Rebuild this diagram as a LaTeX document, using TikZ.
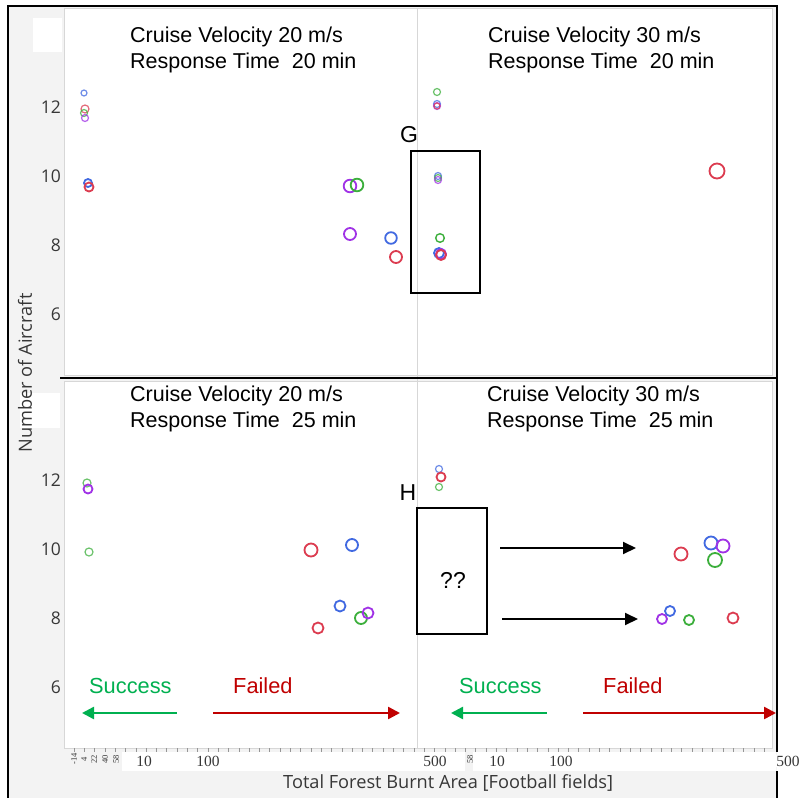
\documentclass[tikz,border=0pt]{standalone}
\usepackage{fontspec}
\setmainfont{Liberation Sans}
\newfontfamily\axisfont{Open Sans}
\newfontfamily\tickfont{Liberation Serif}
\usetikzlibrary{arrows.meta}
\definecolor{cblue}{RGB}{65,105,225}
\definecolor{cred}{RGB}{220,60,80}
\definecolor{cgreen}{RGB}{60,175,60}
\definecolor{cpurple}{RGB}{160,50,230}
\definecolor{sgreen}{RGB}{0,176,80}
\definecolor{fred}{RGB}{192,0,0}
\definecolor{bggrey}{RGB}{243,243,243}
\definecolor{gridgrey}{RGB}{215,215,215}
\definecolor{tickgrey}{RGB}{150,150,150}
\definecolor{ticktext}{RGB}{55,55,55}
\tikzset{
  title/.style={anchor=base west, inner sep=0pt, font=\fontsize{21.5}{26}\selectfont},
  ylab/.style={anchor=east, inner sep=0pt, text=ticktext, font=\axisfont\fontsize{17.5}{20}\selectfont},
  xlab/.style={inner sep=0pt, text=ticktext, font=\tickfont\fontsize{15.5}{17}\selectfont},
  xsmall/.style={inner sep=0pt, rotate=90, text=ticktext, font=\tickfont\fontsize{8.5}{9}\selectfont},
  pt/.style={line width=1.8pt},
  spt/.style={line width=1.2pt, opacity=0.75},
  boxnode/.style={draw, line width=1.6pt, inner sep=0pt},
  letter/.style={inner sep=0pt, font=\fontsize{23}{27}\selectfont},
  blackarrow/.style={line width=2pt, -{Triangle[length=13pt,width=12pt]}},
  sarrow/.style={draw=sgreen, line width=2.5pt, {Triangle[length=12pt,width=12pt]}-},
  farrow/.style={draw=fred, line width=2.5pt, -{Triangle[length=12pt,width=12pt]}},
  slabel/.style={anchor=base west, inner sep=0pt, text=sgreen, font=\fontsize{21.8}{26}\selectfont},
  flabel/.style={anchor=base west, inner sep=0pt, text=fred, font=\fontsize{21.8}{26}\selectfont},
  axtitle/.style={inner sep=0pt, text=ticktext, font=\axisfont\fontsize{18.2}{22}\selectfont},
}
\begin{document}
\begin{tikzpicture}[x=1pt,y=-1pt]
\useasboundingbox (0,0) rectangle (801,798);
\fill[white] (0,0) rectangle (801,798);
% grey chart background
\fill[bggrey] (8,6) rectangle (777,798);
% plot areas
\draw[gridgrey, fill=white] (64,8) rectangle (772,375);
\draw[gridgrey, fill=white] (64,381) rectangle (772,748);
\draw[gridgrey, line width=1pt] (417,8) -- (417,748);
% white patches
\fill[white] (33,18) rectangle (62,52);
\fill[white] (20,393) rectangle (60,428);
\fill[white] (122,752) rectangle (465,771);
\fill[white] (473,752) rectangle (776,771);
% frame
\draw[line width=2pt] (8,798) -- (8,6) -- (777,6) -- (777,752);
\draw[line width=2pt] (777,771) -- (777,798);
\draw[line width=2pt] (60,378) -- (777,378);
% x ticks
\foreach \i in {0,...,67} \draw[tickgrey, line width=0.6pt] ({74+10.3*\i},748) -- ++(0,4);

% y tick labels
\foreach \v/\y in {12/107,10/176,8/245,6/314} \node[ylab] (yu\v) at (61,\y) {\v};
\foreach \v/\y in {12/480,10/549,8/618,6/687} \node[ylab] (yl\v) at (61,\y) {\v};

% x tick labels
\node[xsmall] (xm14) at (74,759) {-14};
\node[xsmall] (x4) at (84,759) {4};
\node[xsmall] (x22) at (94,759) {22};
\node[xsmall] (x40) at (105,759) {40};
\node[xsmall] (x58) at (116,759) {58};
\node[xlab] (x10a) at (144,761) {10};
\node[xlab] (x100a) at (208,761) {100};
\node[xlab] (x500a) at (435,761) {500};
\node[xsmall] (x58b) at (470,759) {58};
\node[xlab] (x10b) at (497,761) {10};
\node[xlab] (x100b) at (561,761) {100};
\node[xlab, fill=white, inner sep=1pt] (x500b) at (788,761) {500};

% axis titles
\node[axtitle, anchor=base west] (xtitle) at (283,788) {Total Forest Burnt Area [Football fields]};
\node[axtitle, rotate=90] (ytitle) at (25,373) {Number of Aircraft};

% panel titles
\node[title] (t1a) at (130,42) {Cruise Velocity 20 m/s};
\node[title] (t1b) at (130,68) {Response Time\ \ 20 min};
\node[title] (t2a) at (488,42) {Cruise Velocity 30 m/s};
\node[title] (t2b) at (488,68) {Response Time\ \ 20 min};
\node[title] (t3a) at (130,401) {Cruise Velocity 20 m/s};
\node[title] (t3b) at (130,427) {Response Time\ \ 25 min};
\node[title] (t4a) at (487,401) {Cruise Velocity 30 m/s};
\node[title] (t4b) at (487,427) {Response Time\ \ 25 min};

% ---- upper left points
\draw[spt, cblue] (84,93) circle[radius=3pt];
\draw[spt, cred] (85,109) circle[radius=4pt];
\draw[spt, cgreen] (84,113) circle[radius=3.5pt];
\draw[spt, cpurple] (85,118) circle[radius=3.5pt];
\draw[pt, cblue] (88,183) circle[radius=4pt];
\draw[pt, cred] (89,187) circle[radius=4.5pt];
\draw[pt, cpurple] (350,186) circle[radius=6.3pt];
\draw[pt, cgreen] (357,185) circle[radius=6.3pt];
\draw[pt, cpurple] (350,234) circle[radius=6pt];
\draw[pt, cblue] (391,238) circle[radius=5.8pt];
\draw[pt, cred] (396,257) circle[radius=6pt];
% ---- upper right points
\draw[spt, cgreen] (437,92) circle[radius=3.5pt];
\draw[spt, cblue] (437,104) circle[radius=3.5pt];
\draw[spt, cpurple] (437,106) circle[radius=3.5pt];
\draw[spt, cred] (437,106) circle[radius=3pt];
\draw[spt, cblue] (438,176) circle[radius=3.5pt];
\draw[spt, cgreen] (438,178) circle[radius=3.5pt];
\draw[spt, cpurple] (438,180) circle[radius=3.5pt];
\draw[pt, cgreen, line width=1.4pt] (440,238) circle[radius=4.3pt];
\draw[pt, cblue] (439,253) circle[radius=5pt];
\draw[pt, cpurple] (441,254) circle[radius=5pt];
\draw[pt, cred] (441,255) circle[radius=5pt];
\draw[pt, cred] (717,171) circle[radius=7.5pt];
% G box
\node[letter] (G) at (409,135) {G};
\node[boxnode, minimum width=69pt, minimum height=142pt] (boxG) at (445.5,222) {};

% ---- lower left points
\draw[spt, cgreen] (87,483) circle[radius=4pt];
\draw[pt, cpurple] (88,489) circle[radius=4.5pt];
\draw[spt, cgreen] (89,552) circle[radius=4pt];
\draw[pt, cred] (311,550) circle[radius=6.5pt];
\draw[pt, cblue] (352,545) circle[radius=6pt];
\draw[pt, cblue] (340,606) circle[radius=5.5pt];
\draw[pt, cred] (318,628) circle[radius=5.5pt];
\draw[pt, cgreen] (361,618) circle[radius=6pt];
\draw[pt, cpurple] (368,613) circle[radius=5.5pt];
% ---- lower right points
\draw[spt, cblue] (439,469) circle[radius=3.5pt];
\draw[pt, cred] (441,477) circle[radius=4.5pt];
\draw[spt, cgreen] (439,487) circle[radius=3.5pt];
\draw[pt, cred] (681,554) circle[radius=6.5pt];
\draw[pt, cblue] (711,543) circle[radius=6.5pt];
\draw[pt, cpurple] (723,546) circle[radius=6.5pt];
\draw[pt, cgreen] (715,560) circle[radius=7pt];
\draw[pt, cblue] (670,611) circle[radius=5pt];
\draw[pt, cpurple] (662,619) circle[radius=5pt];
\draw[pt, cgreen] (689,620) circle[radius=5pt];
\draw[pt, cred] (733,618) circle[radius=5.5pt];
% H box
\node[letter] (H) at (408,493) {H};
\node[boxnode, minimum width=70pt, minimum height=126pt] (boxH) at (452,571) {};
\node[letter] (qq) at (453,580) {??};
\coordinate (a1s) at (500,548);
\coordinate (a1e) at (636,548);
\coordinate (a2s) at (502,619);
\coordinate (a2e) at (638,619);
\draw[blackarrow] (a1s) -- (a1e);
\draw[blackarrow] (a2s) -- (a2e);

% success / failed
\node[slabel] (s1) at (89,693) {Success};
\node[flabel] (f1) at (233,693) {Failed};
\node[slabel] (s2) at (459,693) {Success};
\node[flabel] (f2) at (603,693) {Failed};
\coordinate (s1a) at (82,713); \coordinate (s1b) at (177,713);
\coordinate (f1a) at (213,713); \coordinate (f1b) at (400,713);
\coordinate (s2a) at (451,713); \coordinate (s2b) at (547,713);
\coordinate (f2a) at (583,713); \coordinate (f2b) at (776,713);
\draw[sarrow] (s1a) -- (s1b);
\draw[farrow] (f1a) -- (f1b);
\draw[sarrow] (s2a) -- (s2b);
\draw[farrow] (f2a) -- (f2b);
\end{tikzpicture}
\end{document}
